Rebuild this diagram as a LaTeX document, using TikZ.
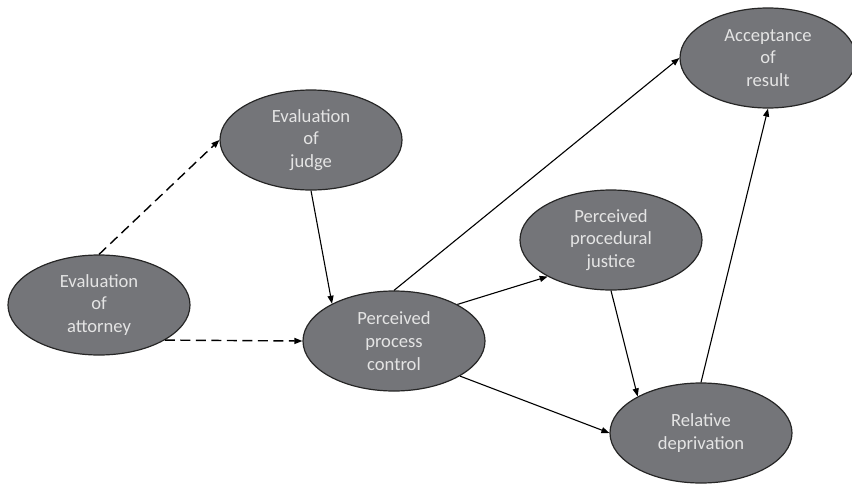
\documentclass[tikz,border=0pt]{standalone}
\usepackage{fontspec}
\setmainfont{Carlito}
\usepackage{xcolor}
\usepackage{tikz}
\usetikzlibrary{arrows.meta}
\usetikzlibrary{shapes.geometric}
\definecolor{bubblegray}{RGB}{116,117,121}
\definecolor{bubbletext}{RGB}{228,228,228}
\begin{document}
\begin{tikzpicture}[
  x=1pt, y=-1pt,
  bubble/.style = {ellipse, draw=black!85, line width=1.2pt, fill=bubblegray,
                   text=bubbletext, minimum width=182pt, minimum height=100pt,
                   inner sep=0pt, align=center,
                   font=\fontsize{18.6}{22.8}\selectfont},
    link/.style = {line width=1.1pt, -{Triangle[length=8pt,width=6pt]}},
   dlink/.style = {link, line width=1.4pt, dash pattern=on 10pt off 5.5pt}
                   ]
\useasboundingbox (0,0) rectangle (852,485);
\node[bubble] (atty)   at (99,305)  {Evaluation\\of\\attorney};
\node[bubble] (judge)  at (311,140) {Evaluation\\of\\judge};
\node[bubble] (proc)   at (394,341) {Perceived\\process\\control};
\node[bubble] (pj)     at (611,240) {Perceived\\procedural\\justice};
\node[bubble, minimum width=176pt] (accept) at (768,58) {Acceptance\\of\\result};
\node[bubble] (reldep) at (701,433) {Relative\\deprivation};

\draw[dlink] (atty.90) -- (judge.west);
\draw[dlink] (atty.-28) -- (proc.west);
\draw[link] (judge.south) -- (proc.149);
\draw[link] (proc.north) -- (accept.west);
\draw[link] (proc.30) -- (pj.210);
\draw[link] (proc.-28) -- (reldep.west);
\draw[link] (pj.south) -- (reldep.150);
\draw[link] (reldep.north) -- (accept.south);
\end{tikzpicture}
\end{document}
